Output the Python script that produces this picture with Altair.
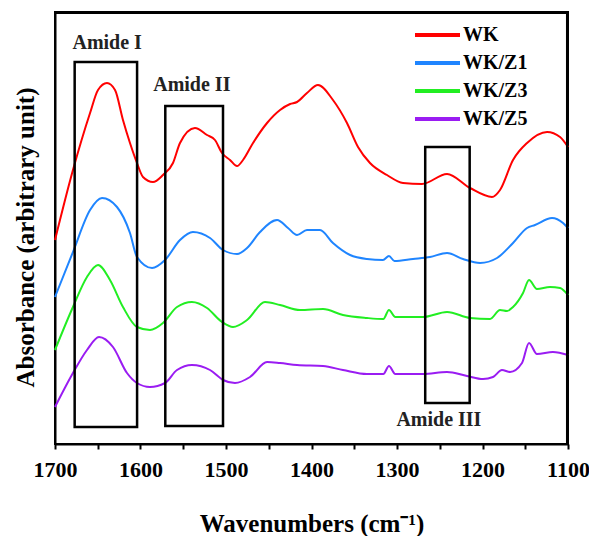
import altair as alt
import pandas as pd

# ---- spectra (wavenumber, absorbance in arbitrary units, offset stacked) ----
wk_x = [1700, 1679, 1659, 1649.7, 1639.2, 1629.8, 1620.5, 1612.3, 1604.1, 1597.1, 1585.4, 1573.7,
        1562.0, 1553.8, 1536.3, 1522.2, 1512.9, 1504.7, 1495.3, 1487.1, 1480.1, 1468.4, 1452.0,
        1436.8, 1425, 1416.9, 1405.3, 1392.4, 1374.9, 1358.5, 1345.6, 1331.6, 1311.7, 1293.0,
        1270.8, 1241.5, 1214.6, 1188.9, 1179.5, 1164.3, 1147.9, 1124.5, 1109.3, 1100]
wk_y = [204, 274, 331, 354, 361, 354, 324, 301, 281, 267, 262, 269,
        281, 301, 316, 309, 304, 291, 284, 278, 284, 301, 321,
        334, 340, 342, 351, 359, 344, 321, 297, 281, 269, 261,
        260, 270, 256, 247, 254, 284, 301, 312, 307, 297]

z1_x = [1700, 1679, 1659, 1645, 1627.5, 1612.3, 1604.1, 1586.5, 1571.3, 1553.8, 1538.6, 1518.7,
        1503.5, 1487.1, 1475.4, 1460.2, 1440.3, 1427.5, 1416.9, 1405.3, 1390.1, 1374.9, 1354.9,
        1335.1, 1316.4, 1309.4, 1303, 1281.3, 1261.4, 1241.5, 1222.8, 1202.9, 1183.0, 1164.3,
        1147.9, 1138.6, 1118.7, 1105.8, 1100]
z1_y = [147, 192, 234, 246, 237, 211, 187, 176, 184, 204, 212, 206,
        194, 190, 196, 212, 224, 216, 209, 214, 214, 201, 189,
        185, 184, 188, 183, 185, 187, 191, 185, 181, 186, 201,
        216, 219, 226, 221, 216]

z3_x = [1700, 1679, 1662.6, 1649.7, 1635.7, 1620.5, 1604.1, 1588.9, 1573.7, 1557.3, 1539.8, 1522.2,
        1504.7, 1491.8, 1475.4, 1454.4, 1436.8, 1413.5, 1386.5, 1363.2, 1335.1, 1316, 1309.4,
        1302, 1269.6, 1241.5, 1214.6, 1191.2, 1179.5, 1171.3, 1164.3, 1152.6, 1145.6, 1136.3,
        1121.1, 1109.3, 1100]
z3_y = [94, 137, 167, 179, 164, 137, 117, 114, 121, 137, 142, 136,
        122, 117, 124, 142, 139, 134, 135, 129, 126, 125, 134,
        127, 127, 132, 126, 125, 134, 133, 137, 151, 164, 155,
        157, 156, 149]

z5_x = [1700, 1679, 1662.6, 1648.5, 1632.2, 1615.8, 1604.1, 1588.9, 1571.3, 1557.3, 1539.8, 1518.7,
        1503.5, 1489.5, 1471.9, 1452.0, 1436.8, 1416.9, 1386.5, 1363.2, 1335.1, 1316, 1309.4,
        1302, 1269.6, 1241.5, 1218.1, 1199.4, 1187.7, 1177.2, 1167.8, 1153.8, 1145.6, 1136.3,
        1117.6, 1100]
z5_y = [37, 71, 94, 107, 97, 71, 61, 57, 61, 74, 79, 74,
        64, 61, 67, 82, 81, 79, 78, 74, 70, 70, 78,
        70, 70, 72, 68, 65, 67, 74, 72, 81, 101, 90,
        92, 89]

series_names = ["WK", "WK/Z1", "WK/Z3", "WK/Z5"]
series_colors = ["#ff0000", "#1f85ff", "#22ee22", "#9a1cf2"]

# ---- annotation boxes ----
box_x1 = [1677, 1571, 1267]
box_x2 = [1604, 1503.5, 1215]
box_y1 = [17, 18, 41]
box_y2 = [382, 338, 297]

label_text = ["Amide I", "Amide II", "Amide III"]
label_x = [1639, 1540, 1251]
label_y = [401, 359, 24]

x_domain = [1100, 1700]
y_domain = [0, 432]
x_ticks = list(range(1100, 1701, 50))

# frame edges (top and right), set just inside the domain limits
edge_top_y = 431
edge_right_x = 1101.2

frames = []
for name, xs, ys in zip(series_names, [wk_x, z1_x, z3_x, z5_x], [wk_y, z1_y, z3_y, z5_y]):
    frames.append(pd.DataFrame({"wn": xs, "abs": ys, "sample": name}))
spectra = pd.concat(frames, ignore_index=True)

boxes = pd.DataFrame({"x1": box_x1, "x2": box_x2, "y1": box_y1, "y2": box_y2})
labels = pd.DataFrame({"text": label_text, "x": label_x, "y": label_y})
edges = pd.DataFrame({
    "ex1": [float(x_domain[1]), edge_right_x],
    "ex2": [float(x_domain[0]), edge_right_x],
    "ey1": [float(edge_top_y), float(y_domain[0])],
    "ey2": [float(edge_top_y), float(y_domain[1])],
})

FONT = "Liberation Serif"

xscale = alt.Scale(domain=x_domain, reverse=True, nice=False, zero=False)
yscale = alt.Scale(domain=y_domain, nice=False, zero=False)

xaxis = alt.Axis(
    title="Wavenumbers (cm⁻¹)",
    values=x_ticks,
    labelExpr="datum.value % 100 == 0 ? datum.label : ''",
    format="d",
    grid=False,
    tickSize=5,
    tickWidth=2,
    tickColor="black",
    domainColor="black",
    domainWidth=2,
    labelFont=FONT,
    labelFontWeight="bold",
    labelFontSize=22,
    labelColor="black",
    labelPadding=10,
    labelFlush=False,
    titleFont=FONT,
    titleFontWeight="bold",
    titleFontSize=25,
    titleColor="black",
    titleBaseline="alphabetic",
    titleY=87,
)
yaxis = alt.Axis(
    title="Absorbance (arbitrary unit)",
    labels=False,
    ticks=False,
    grid=False,
    domainColor="black",
    domainWidth=2,
    titleFont=FONT,
    titleFontWeight="bold",
    titleFontSize=25,
    titleColor="black",
    titleBaseline="alphabetic",
    titleX=-22,
    titleY=225,
)

lines = alt.Chart(spectra).mark_line(strokeWidth=2, interpolate="monotone").encode(
    x=alt.X("wn:Q", scale=xscale, axis=xaxis),
    y=alt.Y("abs:Q", scale=yscale, axis=yaxis),
    color=alt.Color(
        "sample:N",
        scale=alt.Scale(domain=series_names, range=series_colors),
        legend=alt.Legend(
            title=None,
            orient="none",
            legendX=358,
            legendY=13,
            symbolType="stroke",
            symbolSize=2025,
            symbolStrokeWidth=4,
            clipHeight=20,
            labelFont=FONT,
            labelFontWeight="bold",
            labelFontSize=20,
            labelColor="black",
            labelOffset=1,
            rowPadding=8,
        ),
    ),
    order=alt.Order("wn:Q", sort="descending"),
)

edge_rules = alt.Chart(edges).mark_rule(color="black", strokeWidth=2).encode(
    x=alt.X("ex1:Q", scale=xscale),
    x2="ex2:Q",
    y=alt.Y("ey1:Q", scale=yscale),
    y2="ey2:Q",
)

rects = alt.Chart(boxes).mark_rect(filled=False, stroke="black", strokeWidth=2.5).encode(
    x=alt.X("x1:Q", scale=xscale),
    x2="x2:Q",
    y=alt.Y("y1:Q", scale=yscale),
    y2="y2:Q",
)

texts = alt.Chart(labels).mark_text(
    font=FONT, fontWeight="bold", fontSize=20, color="#222222", baseline="middle", align="center"
).encode(
    x=alt.X("x:Q", scale=xscale),
    y=alt.Y("y:Q", scale=yscale),
    text="text:N",
)

chart = (
    alt.layer(lines, edge_rules, rects, texts)
    .properties(
        width=513,
        height=432,
        autosize=alt.AutoSizeParams(type="none"),
        padding={"left": 47, "top": 4, "right": 21, "bottom": 92},
    )
    .configure(background="white")
    .configure_view(stroke="black", strokeWidth=2)
)

chart.save("out.html", embed_options={"renderer": "svg", "actions": False})
